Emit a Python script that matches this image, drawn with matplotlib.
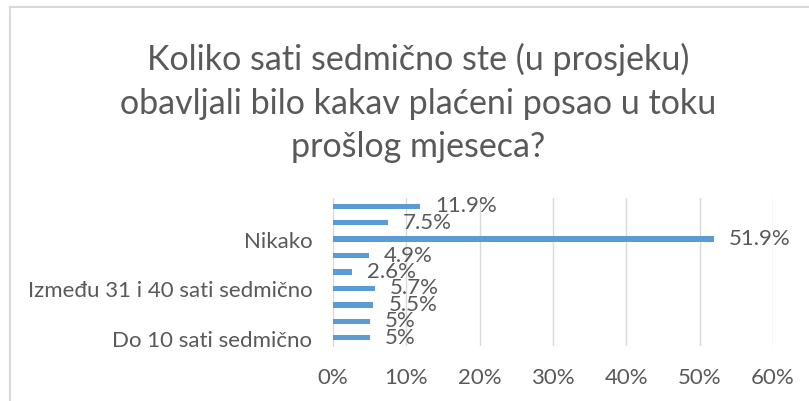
import matplotlib
matplotlib.use('Agg')
import matplotlib.pyplot as plt
from matplotlib.lines import Line2D

# categories from bottom to top (only every third label is shown, as in the original)
categories = [
    'Do 10 sati sedmično',
    'Između 11 i 20 sati sedmično',
    'Između 21 i 30 sati sedmično',
    'Između 31 i 40 sati sedmično',
    'Između 41 i 50 sati sedmično',
    'Više od 50 sati sedmično',
    'Nikako',
    'Ne znam',
    'Ne želim odgovoriti',
]
values = [5, 5, 5.5, 5.7, 2.6, 4.9, 51.9, 7.5, 11.9]
value_labels = ['5%', '5%', '5.5%', '5.7%', '2.6%', '4.9%', '51.9%', '7.5%', '11.9%']
x_ticks = [0, 10, 20, 30, 40, 50, 60]

title = 'Koliko sati sedmično ste (u prosjeku)\nobavljali bilo kakav plaćeni posao u toku\nprošlog mjeseca?'

txt = '#595959'
plt.rcParams['font.family'] = ['Lato', 'DejaVu Sans']

fig = plt.figure(figsize=(8.09, 4.02), dpi=100)
ax = fig.add_axes([333 / 809, 1 - 347 / 402, 440 / 809, 148 / 402])

pos = list(range(len(categories)))
ax.barh(pos, values, height=0.32, color='#5b9bd5', zorder=3)
for p, v, lab in zip(pos, values, value_labels):
    ax.annotate(lab, (v, p), xytext=(15, 1), textcoords='offset pixels',
                va='center', ha='left', fontsize=16, color=txt, zorder=4)

ax.set_xlim(0, 60)
ax.set_ylim(-0.5, len(categories) - 0.5)
ax.set_xticks(x_ticks)
ax.set_xticklabels([f'{t}%' for t in x_ticks], fontsize=16, color=txt)
ax.set_yticks(pos[::3])
ax.set_yticklabels(categories[::3], fontsize=16, color=txt)
ax.tick_params(length=0)
ax.tick_params(axis='x', pad=15)
ax.tick_params(axis='y', pad=15)
ax.xaxis.grid(True, color='#d9d9d9', linewidth=1, zorder=0)
for s in ['top', 'right', 'bottom']:
    ax.spines[s].set_visible(False)
ax.spines['left'].set_color('#d9d9d9')

fig.text(418 / 809, 1 - 103 / 402, title, ha='center', va='center',
         fontsize=24.5, color=txt, linespacing=1.45)

# chart border (partly visible)
fig.add_artist(Line2D([10 / 809, 10 / 809], [0, 1 - 8 / 402], color='#d9d9d9', lw=1.5))
fig.add_artist(Line2D([10 / 809, 1], [1 - 8 / 402, 1 - 8 / 402], color='#d9d9d9', lw=1.5))

fig.savefig('out.png', dpi=100)
